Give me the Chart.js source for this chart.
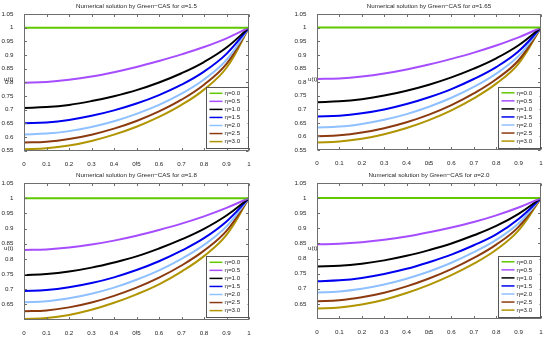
<!DOCTYPE html>
<html><head><meta charset="utf-8">
<script src="https://cdn.jsdelivr.net/npm/chart.js@4/dist/chart.umd.min.js"></script>
<style>
html,body{margin:0;padding:0;background:#fff;}
#wrap{position:relative;width:550px;height:338px;overflow:hidden;background:#fff;}
.cell{position:absolute;width:275px;height:169px;}
canvas{display:block;}
</style></head><body>
<div id="wrap">
<div class="cell" style="left:0;top:0"><canvas id="c0" width="275" height="169"></canvas></div>
<div class="cell" style="left:275px;top:0"><canvas id="c1" width="275" height="169"></canvas></div>
<div class="cell" style="left:0;top:169px"><canvas id="c2" width="275" height="169"></canvas></div>
<div class="cell" style="left:275px;top:169px"><canvas id="c3" width="275" height="169"></canvas></div>
</div>
<script>
// ---------- data ----------
const tValues = [0, 0.1, 0.2, 0.3, 0.4, 0.5, 0.6, 0.7, 0.8, 0.9, 1];
const etaLabels = ['η=0.0', 'η=0.5', 'η=1.0', 'η=1.5', 'η=2.0', 'η=2.5', 'η=3.0'];
const alphaLabels = ['1.5', '1.65', '1.8', '2.0'];

const etaZero = [1, 1, 1, 1, 1, 1, 1, 1, 1, 1, 1];

// alpha = 1.5
const a15_e05 = [0.798, 0.801, 0.809, 0.821, 0.837, 0.856, 0.878, 0.902, 0.929, 0.961, 1];
const a15_e10 = [0.706, 0.709, 0.717, 0.731, 0.749, 0.771, 0.799, 0.833, 0.874, 0.927, 1];
const a15_e15 = [0.650, 0.653, 0.662, 0.677, 0.697, 0.722, 0.753, 0.791, 0.839, 0.904, 1];
const a15_e20 = [0.609, 0.612, 0.621, 0.636, 0.657, 0.684, 0.717, 0.758, 0.810, 0.882, 1];
const a15_e25 = [0.579, 0.582, 0.592, 0.608, 0.630, 0.658, 0.693, 0.736, 0.791, 0.867, 1];
const a15_e30 = [0.555, 0.558, 0.568, 0.585, 0.608, 0.637, 0.673, 0.717, 0.773, 0.853, 1];
// alpha = 1.65
const a165_e05 = [0.811, 0.813, 0.820, 0.831, 0.846, 0.864, 0.885, 0.908, 0.934, 0.964, 1];
const a165_e10 = [0.726, 0.729, 0.737, 0.750, 0.768, 0.790, 0.817, 0.849, 0.887, 0.935, 1];
const a165_e15 = [0.673, 0.676, 0.685, 0.699, 0.719, 0.744, 0.774, 0.811, 0.855, 0.913, 1];
const a165_e20 = [0.633, 0.636, 0.646, 0.661, 0.682, 0.709, 0.742, 0.782, 0.831, 0.896, 1];
const a165_e25 = [0.601, 0.604, 0.614, 0.630, 0.652, 0.680, 0.715, 0.758, 0.810, 0.880, 1];
const a165_e30 = [0.578, 0.581, 0.591, 0.608, 0.631, 0.660, 0.696, 0.740, 0.794, 0.868, 1];
// alpha = 1.8
const a18_e05 = [0.829, 0.831, 0.837, 0.847, 0.860, 0.876, 0.895, 0.916, 0.940, 0.968, 1];
const a18_e10 = [0.747, 0.750, 0.758, 0.771, 0.788, 0.808, 0.834, 0.864, 0.899, 0.943, 1];
const a18_e15 = [0.694, 0.697, 0.706, 0.720, 0.739, 0.763, 0.792, 0.827, 0.868, 0.923, 1];
const a18_e20 = [0.657, 0.660, 0.670, 0.685, 0.705, 0.731, 0.762, 0.800, 0.846, 0.907, 1];
const a18_e25 = [0.627, 0.630, 0.640, 0.656, 0.678, 0.705, 0.738, 0.778, 0.827, 0.892, 1];
const a18_e30 = [0.602, 0.605, 0.615, 0.632, 0.655, 0.683, 0.716, 0.758, 0.809, 0.879, 1];
// alpha = 2.0
const a20_e05 = [0.847, 0.849, 0.854, 0.862, 0.873, 0.887, 0.903, 0.921, 0.943, 0.969, 1];
const a20_e10 = [0.774, 0.776, 0.783, 0.794, 0.809, 0.828, 0.850, 0.877, 0.908, 0.948, 1];
const a20_e15 = [0.725, 0.728, 0.736, 0.749, 0.766, 0.788, 0.813, 0.844, 0.880, 0.931, 1];
const a20_e20 = [0.688, 0.691, 0.700, 0.714, 0.733, 0.757, 0.786, 0.821, 0.862, 0.917, 1];
const a20_e25 = [0.659, 0.662, 0.672, 0.687, 0.708, 0.734, 0.765, 0.802, 0.846, 0.905, 1];
const a20_e30 = [0.635, 0.638, 0.648, 0.664, 0.686, 0.713, 0.745, 0.783, 0.829, 0.893, 1];

const xTicks = [0, 0.1, 0.2, 0.3, 0.4, 0.5, 0.6, 0.7, 0.8, 0.9, 1];
const xTickLabels = ['0', '0.1', '0.2', '0.3', '0.4', '0.5', '0.6', '0.7', '0.8', '0.9', '1'];
const yTicksTop = [0.55, 0.6, 0.65, 0.7, 0.75, 0.8, 0.85, 0.9, 0.95, 1, 1.05];
const yTickLabelsTop = ['0.55', '0.6', '0.65', '0.7', '0.75', '0.8', '0.85', '0.9', '0.95', '1', '1.05'];
const yTicksBottom = [0.65, 0.7, 0.75, 0.8, 0.85, 0.9, 0.95, 1, 1.05];
const yTickLabelsBottom = ['0.65', '0.7', '0.75', '0.8', '0.85', '0.9', '0.95', '1', '1.05'];

// ---------- styles ----------
const seriesColors = ['#5fc800', '#a64dff', '#000000', '#0000f0', '#8fc0ff', '#8c3a10', '#b09400'];
const FONT = '"Liberation Sans", Arial, Helvetica, sans-serif';
const TXT = '#262626';
const AXC = '#6e6e6e';
const FS = 6.2;

const panels = [
  { id: 'c0', alpha: alphaLabels[0], series: [etaZero, a15_e05, a15_e10, a15_e15, a15_e20, a15_e25, a15_e30],
    yMin: 0.55, yMax: 1.05, yTicks: yTicksTop, yLabels: yTickLabelsTop,
    area: { left: 24, top: 14, right: 249, bottom: 150.5 }, ylabX: 4 },
  { id: 'c1', alpha: alphaLabels[1], series: [etaZero, a165_e05, a165_e10, a165_e15, a165_e20, a165_e25, a165_e30],
    yMin: 0.55, yMax: 1.05, yTicks: yTicksTop, yLabels: yTickLabelsTop,
    area: { left: 42, top: 14, right: 266, bottom: 150 }, ylabX: 33 },
  { id: 'c2', alpha: alphaLabels[2], series: [etaZero, a18_e05, a18_e10, a18_e15, a18_e20, a18_e25, a18_e30],
    yMin: 0.6, yMax: 1.05, yTicks: yTicksBottom, yLabels: yTickLabelsBottom,
    area: { left: 24, top: 14, right: 249, bottom: 150.5 }, ylabX: 4 },
  { id: 'c3', alpha: alphaLabels[3], series: [etaZero, a20_e05, a20_e10, a20_e15, a20_e20, a20_e25, a20_e30],
    yMin: 0.6, yMax: 1.05, yTicks: yTicksBottom, yLabels: yTickLabelsBottom,
    area: { left: 42, top: 14, right: 266, bottom: 150 }, ylabX: 33 }
];

function decorPlugin(p) {
  return {
    id: 'decor',
    afterDraw(chart) {
      const ctx = chart.ctx;
      const a = chart.chartArea;
      const xs = chart.scales.x, ys = chart.scales.y;
      ctx.save();
      ctx.strokeStyle = AXC;
      ctx.lineWidth = 1;
      const L = Math.round(a.left) + 0.5, R = Math.round(a.right) - 0.5;
      const T = Math.round(a.top) + 0.5, B = Math.round(a.bottom) - 0.5;
      ctx.strokeRect(L, T, R - L, B - T);
      const tl = 2.5;
      ctx.beginPath();
      xTicks.forEach(v => {
        const px = Math.round(xs.getPixelForValue(v)) + 0.5;
        ctx.moveTo(px, B); ctx.lineTo(px, B - tl);
        ctx.moveTo(px, T); ctx.lineTo(px, T + tl);
      });
      p.yTicks.forEach(v => {
        const py = Math.round(ys.getPixelForValue(v)) + 0.5;
        ctx.moveTo(L, py); ctx.lineTo(L + tl, py);
        ctx.moveTo(R, py); ctx.lineTo(R - tl, py);
      });
      ctx.stroke();
      ctx.fillStyle = TXT;
      ctx.font = FS + 'px ' + FONT;
      ctx.textAlign = 'center';
      ctx.textBaseline = 'middle';
      ctx.fillText('Numerical solution by Green\u2212CAS for \u03b1=' + p.alpha, (a.left + a.right) / 2, 6);
      ctx.fillText('t', (a.left + a.right) / 2, 163);
      ctx.textAlign = 'left';
      ctx.fillText('u(t)', p.ylabX, 79.5);
      const bw = 41.5, bh = 61;
      const bx = a.right - 1.5 - bw, by = a.bottom - 2.5 - bh;
      ctx.fillStyle = '#ffffff';
      ctx.fillRect(bx, by, bw, bh);
      ctx.strokeStyle = '#555';
      ctx.strokeRect(Math.round(bx) + 0.5, Math.round(by) + 0.5, Math.round(bw), Math.round(bh));
      chart.data.datasets.forEach((ds, i) => {
        const yy = by + 6.3 + i * 8.05;
        ctx.strokeStyle = ds.borderColor;
        ctx.lineWidth = 1.5;
        ctx.beginPath();
        ctx.moveTo(bx + 3.5, yy); ctx.lineTo(bx + 16.5, yy);
        ctx.stroke();
        ctx.fillStyle = TXT;
        ctx.textAlign = 'left';
        ctx.fillText(ds.label, bx + 18.5, yy);
      });
      ctx.restore();
    }
  };
}

panels.forEach(p => {
  const W = 275, H = 169;
  const datasets = p.series.map((s, i) => ({
    label: etaLabels[i],
    data: tValues.map((t, k) => ({ x: t, y: s[k] })),
    borderColor: seriesColors[i],
    backgroundColor: seriesColors[i],
    borderWidth: 2,
    pointRadius: 0,
    fill: false,
    tension: 0.4
  }));
  new Chart(document.getElementById(p.id), {
    type: 'line',
    data: { datasets },
    options: {
      responsive: false,
      animation: false,
      events: [],
      layout: { padding: { left: 0, top: p.area.top, right: W - p.area.right, bottom: 0 } },
      plugins: { legend: { display: false }, title: { display: false }, tooltip: { enabled: false } },
      scales: {
        x: {
          type: 'linear', min: 0, max: 1,
          grid: { display: false }, border: { display: false },
          afterBuildTicks: sc => { sc.ticks = xTicks.map(v => ({ value: v })); },
          afterFit: sc => { sc.height = H - p.area.bottom; },
          ticks: { autoSkip: false, maxRotation: 0, padding: 2, color: TXT,
                   font: { family: FONT, size: FS },
                   callback: (v, i) => xTickLabels[i] }
        },
        y: {
          type: 'linear', min: p.yMin, max: p.yMax,
          grid: { display: false }, border: { display: false },
          afterBuildTicks: sc => { sc.ticks = p.yTicks.map(v => ({ value: v })); },
          afterFit: sc => { sc.width = p.area.left; },
          ticks: { autoSkip: false, padding: 2.5, color: TXT,
                   font: { family: FONT, size: FS },
                   callback: (v, i) => p.yLabels[i] }
        }
      }
    },
    plugins: [decorPlugin(p)]
  });
});
</script>
</body></html>
